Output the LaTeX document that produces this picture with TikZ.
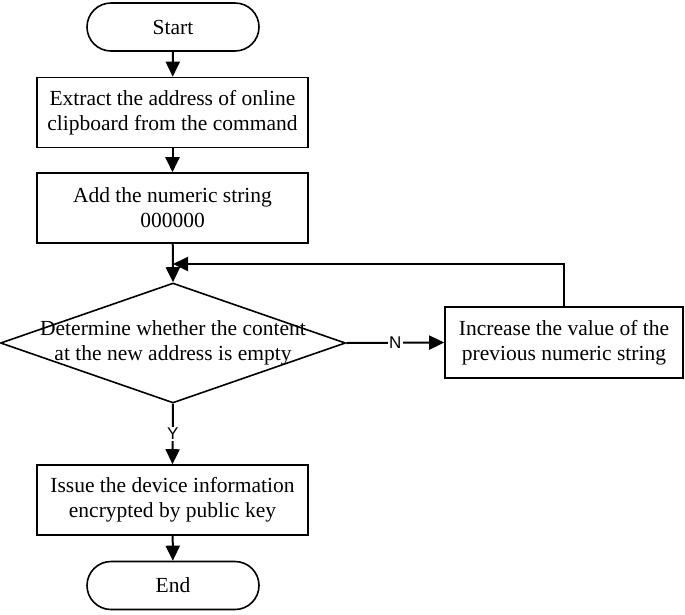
\documentclass[tikz,border=0pt]{standalone}
\usepackage{fontspec}
\setmainfont{Liberation Serif}
\newfontfamily\labelfont{Liberation Sans}
\usetikzlibrary{arrows.meta,shapes.geometric,shapes.misc}
\begin{document}
\begin{tikzpicture}[x=1pt,y=-1pt,
  every node/.style={font=\fontsize{21.5}{25}\selectfont},
  proc/.style={draw,line width=1.6pt,rectangle,inner sep=0pt,minimum width=271pt,minimum height=70pt,align=center},
  term/.style={draw,line width=1.6pt,rounded rectangle,inner sep=0pt,minimum width=172pt,minimum height=48pt},
  dec/.style={draw,line width=1.6pt,diamond,inner sep=0pt,minimum width=345pt,minimum height=120pt},
  conn/.style={line width=2pt,-{Triangle[length=15pt,width=14pt]}},
  yn/.style={font=\labelfont\fontsize{17}{17}\selectfont,fill=white,inner sep=1.5pt}
]
\useasboundingbox (0,0) rectangle (685,614);
\node[term] (start) at (173,27) {Start};
\node[proc] (b1) at (172.5,112.5) {Extract the address of online\\clipboard from the command};
\node[proc] (b2) at (172.5,208) {Add the numeric string\\000000};
\node[dec] (dia) at (173,343) {};
\node[align=center] (diat) at (173,343) {Determine whether the content\\at the new address is empty};
\node[proc,minimum width=238pt,minimum height=71pt] (b3) at (564,342.5) {Increase the value of the\\previous numeric string};
\node[proc] (b4) at (172.5,500) {Issue the device information\\encrypted by public key};
\node[term] (end) at (173,585.5) {End};
\coordinate (j) at (173,264);
\coordinate (k) at (b3.north |- j);
\draw[conn] (start) -- (b1);
\draw[conn] (b1) -- (b2);
\draw[conn] (b2) -- (dia.north);
\draw[conn] (b3.north) -- (k) -- (j);
\draw[conn] (dia.east) -- node[yn] {N} (b3.west);
\draw[conn] (dia.south) -- node[yn] {Y} (b4.north);
\draw[conn] (b4) -- (end);
\end{tikzpicture}
\end{document}
